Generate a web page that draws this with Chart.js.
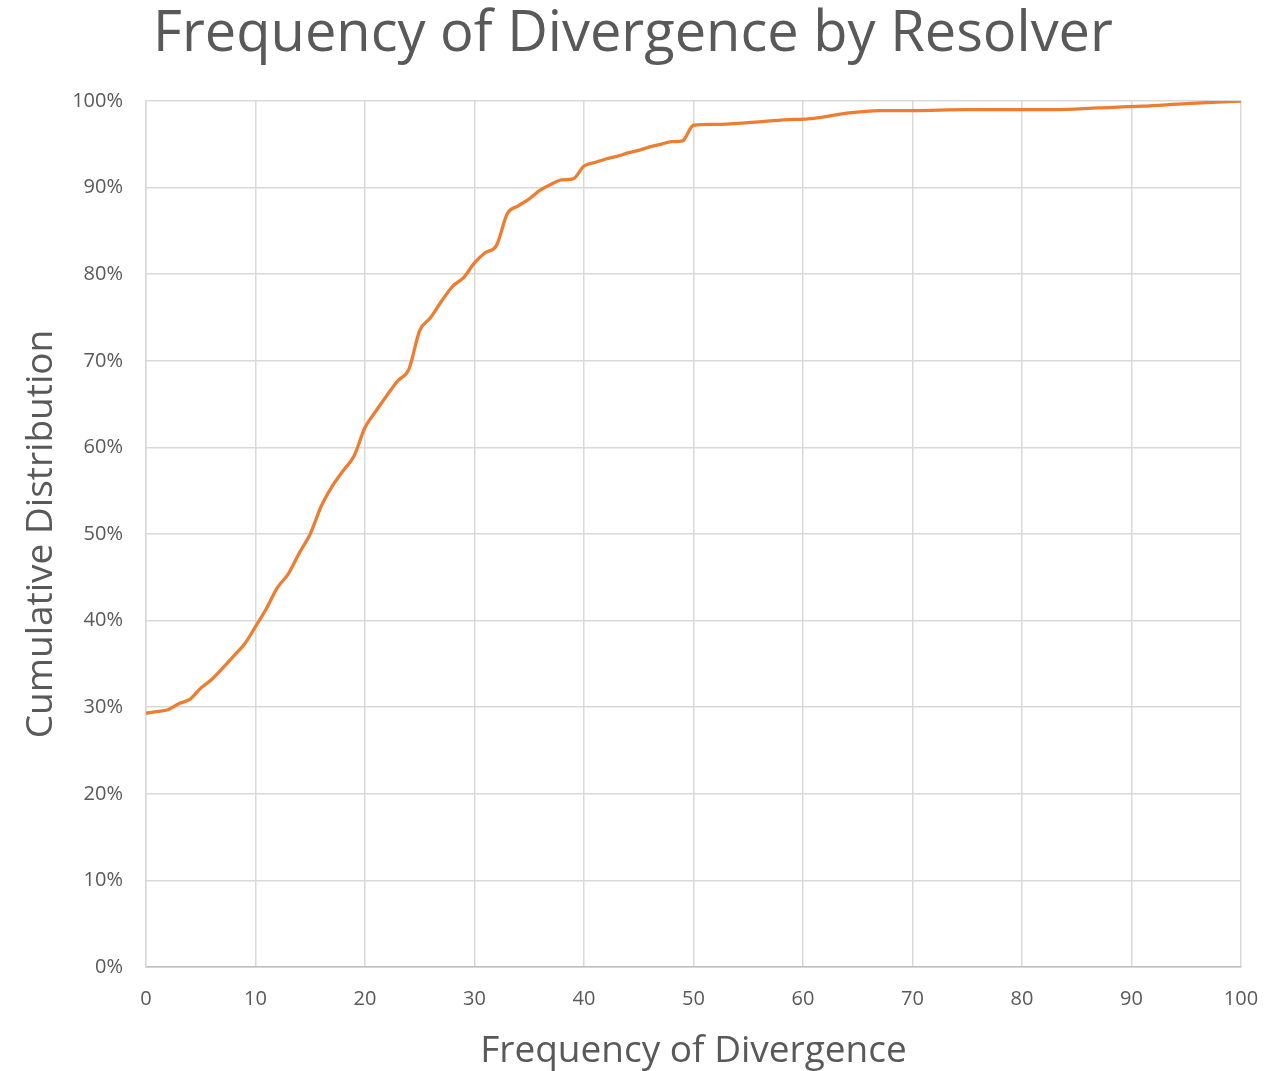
<!DOCTYPE html>
<html>
<head>
<meta charset="utf-8">
<script src="https://cdn.jsdelivr.net/npm/chart.js@4.4.1/dist/chart.umd.min.js"></script>
<style>
  html,body{margin:0;padding:0;background:#fff;}
  #wrap{width:1286px;height:1071px;position:relative;}
</style>
</head>
<body>
<div id="wrap"><canvas id="cdf"></canvas></div>
<script>
// divergence frequency (x) and cumulative share of resolvers (%)
const freqX = [0,1,2,3,4,5,6,7,8,9,10,11,12,13,14,15,16,17,18,19,20,21,22,23,24,25,26,27,28,29,30,
  31,32,33,34,35,36,37,38,39,40,41,42,43,44,45,46,47,48,49,50,52,55,58,61,64,67,70,75,80,83,87,91,95,100];
const cumPct = [29.3,29.5,29.7,30.4,30.9,32.2,33.2,34.5,35.9,37.3,39.3,41.4,43.8,45.4,47.8,50.0,53.2,55.5,57.3,59.0,62.3,
  64.2,66.0,67.7,69.0,73.5,75.0,76.9,78.6,79.6,81.3,82.5,83.3,87.0,87.9,88.7,89.7,90.4,90.9,91.0,92.5,
  92.9,93.3,93.6,94.0,94.3,94.7,95.0,95.3,95.4,97.2,97.3,97.5,97.8,98.0,98.6,98.9,98.9,99.0,99.0,99.0,99.2,99.4,99.7,100];

const TXT = '#595959';
const GRID = '#d9d9d9';
const FONT = "'Open Sans', 'Liberation Sans', sans-serif";

new Chart(document.getElementById('cdf').getContext('2d'), {
  type: 'line',
  data: {
    datasets: [{
      data: freqX.map((x, i) => ({x: x, y: cumPct[i]})),
      borderColor: '#ED7D31',
      borderWidth: 3.3,
      pointRadius: 0,
      tension: 0.4,
      cubicInterpolationMode: 'monotone',
      fill: false
    }]
  },
  options: {
    responsive: true,
    maintainAspectRatio: false,
    animation: false,
    layout: {padding: {left: 25, right: 45, top: 0, bottom: 0}},
    plugins: {
      legend: {display: false},
      tooltip: {enabled: false},
      title: {
        display: true,
        text: 'Frequency of Divergence by Resolver',
        color: TXT,
        font: {family: FONT, size: 56, weight: 'normal'},
        padding: {top: 1.4, bottom: 32.4}
      }
    },
    scales: {
      x: {
        type: 'linear',
        min: 0, max: 100,
        afterFit: s => { s.height = 104; },
        ticks: {stepSize: 10, color: TXT, font: {family: FONT, size: 20}, padding: 20},
        grid: {color: GRID, lineWidth: 1.5, drawTicks: false},
        border: {color: '#bfbfbf', width: 1.5},
        title: {display: true, text: 'Frequency of Divergence', color: TXT,
          font: {family: FONT, size: 37, weight: 'normal'}, padding: {top: 0, bottom: -3}}
      },
      y: {
        min: 0, max: 100,
        afterFit: s => { s.width = 121; },
        ticks: {stepSize: 10, color: TXT, font: {family: FONT, size: 20}, padding: 23,
          callback: v => v + '%'},
        grid: {color: GRID, lineWidth: 1.5, drawTicks: false},
        border: {color: GRID, width: 1.5},
        title: {display: true, text: 'Cumulative Distribution', color: TXT,
          font: {family: FONT, size: 37, weight: 'normal'}, padding: {top: -6, bottom: 0}}
      }
    }
  }
});
</script>
</body>
</html>
